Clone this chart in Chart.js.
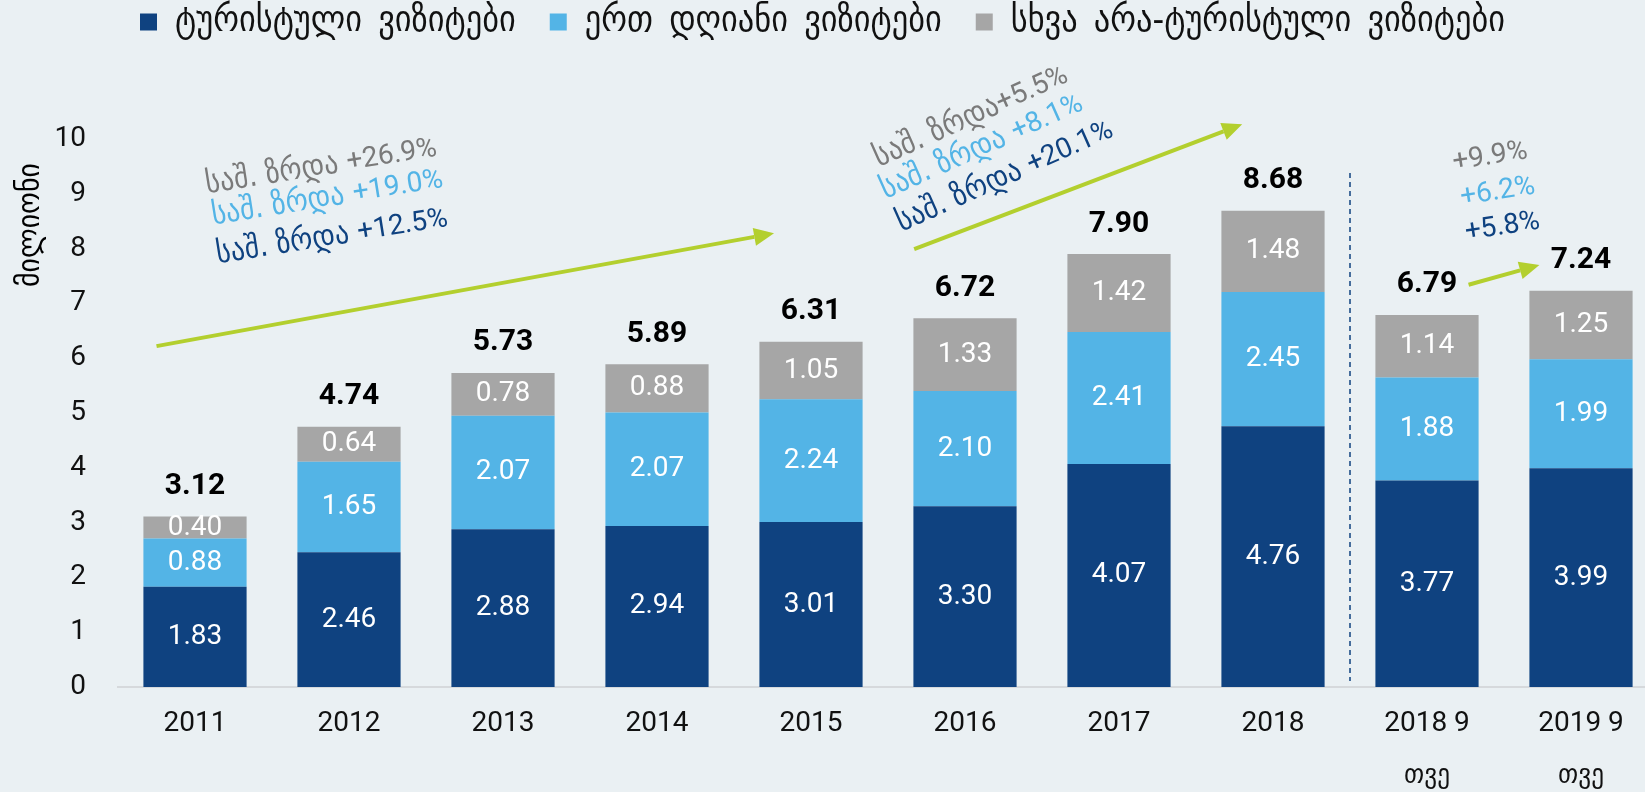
<!DOCTYPE html>
<html>
<head>
<meta charset="utf-8">
<script src="https://cdn.jsdelivr.net/npm/chart.js@4.4.1/dist/chart.umd.min.js"></script>
<style>
  html, body { margin: 0; padding: 0; background: #EAF0F3; }
  #wrap { width: 1645px; height: 792px; }
</style>
</head>
<body>
<div id="wrap"><canvas id="visits" width="1645" height="792"></canvas></div>
<script>
const categories = ['2011', '2012', '2013', '2014', '2015', '2016', '2017', '2018', ['2018 9', 'თვე'], ['2019 9', 'თვე']];
const touristVisits = [1.83, 2.46, 2.88, 2.94, 3.01, 3.30, 4.07, 4.76, 3.77, 3.99];
const sameDayVisits = [0.88, 1.65, 2.07, 2.07, 2.24, 2.10, 2.41, 2.45, 1.88, 1.99];
const otherVisits = [0.40, 0.64, 0.78, 0.88, 1.05, 1.33, 1.42, 1.48, 1.14, 1.25];
const totals = [3.12, 4.74, 5.73, 5.89, 6.31, 6.72, 7.90, 8.68, 6.79, 7.24];
const seriesNames = ['ტურისტული\u2002ვიზიტები', 'ერთ\u2002დღიანი\u2002ვიზიტები', 'სხვა\u2002არა-ტურისტული\u2002ვიზიტები'];
const yTitle = 'მილიონი';

// average growth notes: gray (other), light (same day), dark (tourist)
const growth2011to2015 = ['საშ. ზრდა +26.9%', 'საშ. ზრდა +19.0%', 'საშ. ზრდა +12.5%'];
const growth2015to2018 = ['საშ. ზრდა+5.5%', 'საშ. ზრდა +8.1%', 'საშ. ზრდა +20.1%'];
const growth9months = ['+9.9%', '+6.2%', '+5.8%'];

const DARK = '#0F4280';
const LIGHT = '#53B4E6';
const GRAY = '#A6A6A6';
const NOTE_GRAY = '#7A7A7A';
const ARROW = '#B3CF2E';
const NUM_FONT = "Roboto, 'DejaVu Sans Condensed', sans-serif";
const GEO_FONT = "'DejaVu Sans Condensed', 'DejaVu Sans', sans-serif";

// annotation placement in scale units: [category index, value]
const notes = [
    { lines: growth2011to2015, pos: [[0.82, 9.49], [0.86, 8.92], [0.89, 8.21]], angle: -9 },
    { lines: growth2015to2018, pos: [[5.04, 10.40], [5.11, 9.85], [5.26, 9.31]], angle: -24 },
    { lines: growth9months, pos: [[8.41, 9.67], [8.46, 9.03], [8.49, 8.39]], angle: -9 }
];
const arrows = [
    [[-0.25, 6.22], [3.76, 8.28]],
    [[4.67, 7.99], [6.80, 10.27]],
    [[8.27, 7.34], [8.73, 7.70]]
];

const legendHeight = {
    id: 'legendHeight',
    beforeInit(chart) {
        const fit = chart.legend.fit;
        chart.legend.fit = function () {
            fit.call(this);
            this.height = 169;
        };
    }
};

// the original plot runs a little past the right edge of the canvas
const widenX = {
    id: 'widenX',
    afterLayout(chart) {
        const xs = chart.scales.x;
        xs.right = 1658;
        xs.width = xs.right - xs.left;
        xs.configure();
    }
};

const barLabels = {
    id: 'barLabels',
    afterDatasetsDraw(chart) {
        const ctx = chart.ctx;
        ctx.save();
        ctx.textAlign = 'center';
        ctx.textBaseline = 'middle';
        ctx.fillStyle = '#FFFFFF';
        ctx.font = '28px ' + NUM_FONT;
        chart.data.datasets.forEach((ds, i) => {
            chart.getDatasetMeta(i).data.forEach((bar, j) => {
                ctx.fillText(ds.data[j].toFixed(2), bar.x, (bar.y + bar.base) / 2);
            });
        });
        const top = chart.getDatasetMeta(2).data;
        ctx.fillStyle = '#000000';
        ctx.font = 'bold 30px ' + NUM_FONT;
        top.forEach((bar, j) => {
            ctx.fillText(totals[j].toFixed(2), bar.x, bar.y - 30);
        });
        ctx.restore();
    }
};

// draw text where Georgian runs use the Georgian font and the rest the numeric font
function mixedText(ctx, txt) {
    const runs = [];
    for (const ch of txt) {
        const geo = /[\u10A0-\u10FF]/.test(ch) || (runs.length && runs[runs.length - 1].geo && /[.\s]/.test(ch));
        if (runs.length && runs[runs.length - 1].geo === geo) runs[runs.length - 1].s += ch;
        else runs.push({ geo, s: ch });
    }
    let total = 0;
    runs.forEach(r => {
        ctx.font = r.geo ? '31px ' + GEO_FONT : '28px ' + NUM_FONT;
        r.w = ctx.measureText(r.s).width;
        total += r.w;
    });
    let x = -total / 2;
    ctx.textAlign = 'left';
    runs.forEach(r => {
        ctx.font = r.geo ? '31px ' + GEO_FONT : '28px ' + NUM_FONT;
        ctx.fillText(r.s, x, 0);
        x += r.w;
    });
}

const annotations = {
    id: 'annotations',
    afterDraw(chart) {
        const ctx = chart.ctx;
        const xs = chart.scales.x;
        const ys = chart.scales.y;
        const px = (p) => {
            const x0 = xs.getPixelForValue(0);
            const step = xs.getPixelForValue(1) - x0;
            return [x0 + p[0] * step, ys.getPixelForValue(p[1])];
        };
        ctx.save();

        // separator between full years and 9 months
        const sepX = (xs.getPixelForValue(7) + xs.getPixelForValue(8)) / 2;
        ctx.strokeStyle = DARK;
        ctx.lineWidth = 1.5;
        ctx.setLineDash([5, 4]);
        ctx.beginPath();
        ctx.moveTo(sepX, ys.getPixelForValue(9.38));
        ctx.lineTo(sepX, chart.chartArea.bottom - 6);
        ctx.stroke();
        ctx.setLineDash([]);

        // arrows
        arrows.forEach(a => {
            const [x1, y1] = px(a[0]);
            const [x2, y2] = px(a[1]);
            const ang = Math.atan2(y2 - y1, x2 - x1);
            const head = 20;
            ctx.strokeStyle = ARROW;
            ctx.fillStyle = ARROW;
            ctx.lineWidth = 4;
            ctx.beginPath();
            ctx.moveTo(x1, y1);
            ctx.lineTo(x2 - head * Math.cos(ang), y2 - head * Math.sin(ang));
            ctx.stroke();
            ctx.beginPath();
            ctx.moveTo(x2, y2);
            ctx.lineTo(x2 - head * Math.cos(ang) + 9 * Math.sin(ang), y2 - head * Math.sin(ang) - 9 * Math.cos(ang));
            ctx.lineTo(x2 - head * Math.cos(ang) - 9 * Math.sin(ang), y2 - head * Math.sin(ang) + 9 * Math.cos(ang));
            ctx.closePath();
            ctx.fill();
        });

        // growth notes
        const colors = [NOTE_GRAY, LIGHT, DARK];
        ctx.textBaseline = 'middle';
        notes.forEach(n => {
            n.lines.forEach((txt, k) => {
                const [x, y] = px(n.pos[k]);
                ctx.save();
                ctx.translate(x, y);
                ctx.rotate(n.angle * Math.PI / 180);
                ctx.fillStyle = colors[k];
                mixedText(ctx, txt);
                ctx.restore();
            });
        });

        // y axis title
        ctx.save();
        ctx.translate(31, ys.getPixelForValue(8.43));
        ctx.rotate(-Math.PI / 2);
        ctx.textAlign = 'center';
        ctx.fillStyle = '#000000';
        ctx.font = '31px ' + GEO_FONT;
        ctx.fillText(yTitle, 0, 0);
        ctx.restore();

        ctx.restore();
    }
};

new Chart(document.getElementById('visits'), {
    type: 'bar',
    data: {
        labels: categories,
        datasets: [
            { label: seriesNames[0], data: touristVisits, backgroundColor: DARK },
            { label: seriesNames[1], data: sameDayVisits, backgroundColor: LIGHT },
            { label: seriesNames[2], data: otherVisits, backgroundColor: GRAY }
        ]
    },
    options: {
        responsive: false,
        animation: false,
        categoryPercentage: 1,
        barPercentage: 0.67,
        layout: {
            padding: { top: -30, right: 0, left: 0, bottom: 0 }
        },
        scales: {
            x: {
                stacked: true,
                grid: { display: false, drawTicks: false },
                border: { display: true, color: '#D6D9DC', width: 2 },
                ticks: {
                    color: '#111111',
                    padding: 11,
                    font: { size: 28, family: NUM_FONT, lineHeight: 1.86 },
                    maxRotation: 0,
                    autoSkip: false
                },
                afterFit(scale) { scale.height = 105; }
            },
            y: {
                stacked: true,
                min: 0,
                max: 10,
                grid: { display: false, drawTicks: false },
                border: { display: false },
                ticks: {
                    stepSize: 1,
                    color: '#111111',
                    padding: 32,
                    font: { size: 28, family: NUM_FONT }
                },
                afterFit(scale) { scale.width = 118; }
            }
        },
        plugins: {
            legend: {
                position: 'top',
                labels: {
                    boxWidth: 17,
                    boxHeight: 17,
                    padding: 34,
                    color: '#111111',
                    font: { size: 36, family: GEO_FONT }
                }
            },
            tooltip: { enabled: false }
        }
    },
    plugins: [legendHeight, widenX, barLabels, annotations]
});
</script>
</body>
</html>
